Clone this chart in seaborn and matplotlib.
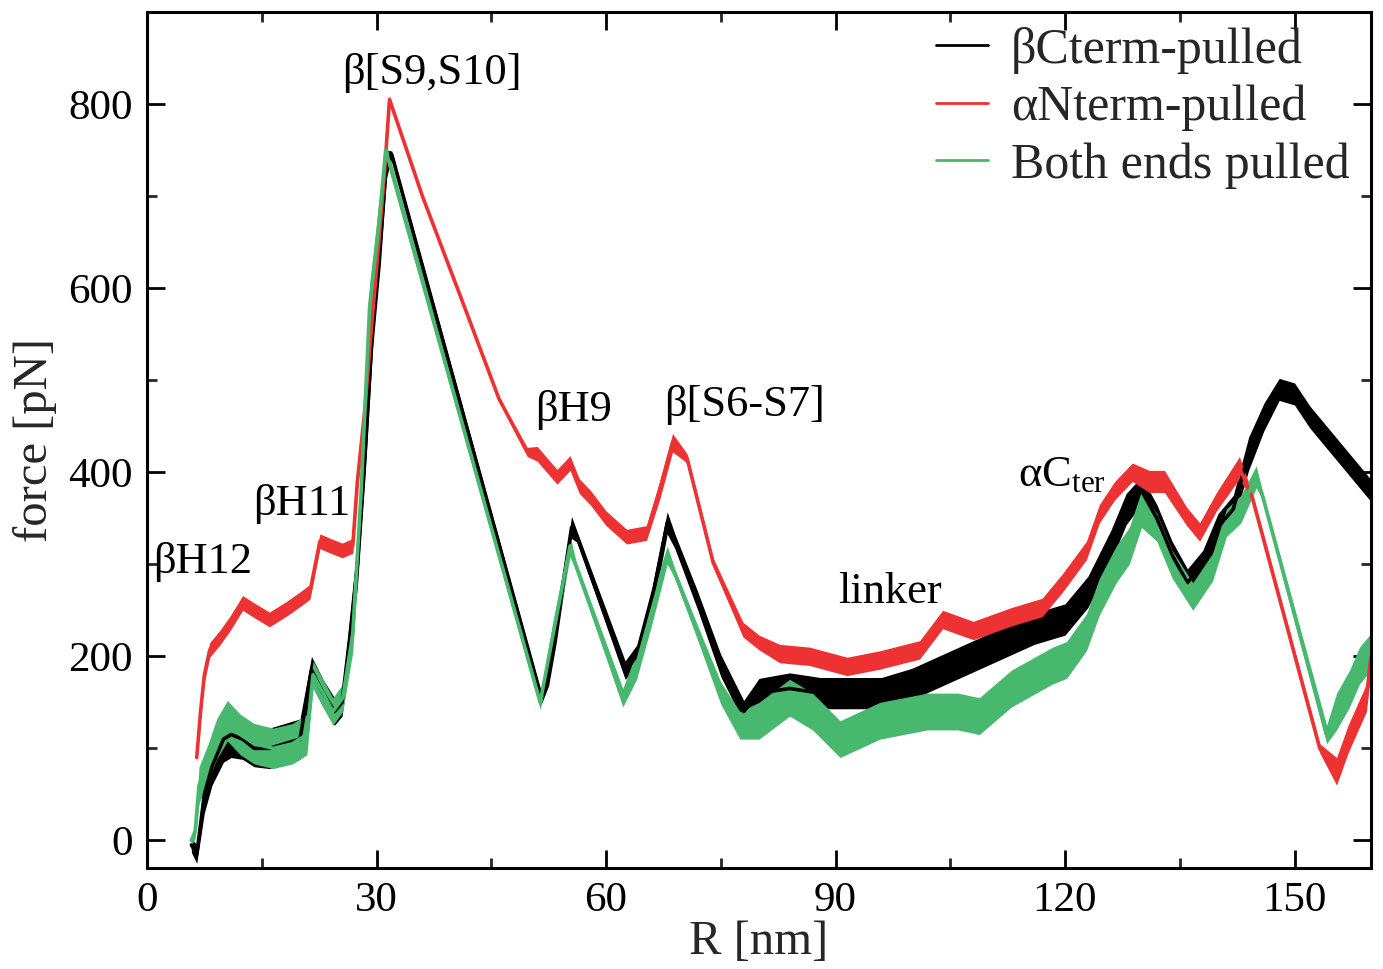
import numpy as np
import pandas as pd
import matplotlib
matplotlib.use("Agg")
import matplotlib.pyplot as plt
import seaborn as sns

# ---- data (R in nm, force in pN, noise half-width in pN)
black_x = [5.8, 6.5, 7.5, 8.5, 10, 11, 12.5, 14, 16, 18, 20, 21.5, 23, 24.5, 25.5, 26.5, 27.5, 28.5,
           29.5, 30.5, 31.3, 32, 51.5, 52.5, 53.5, 55.5, 56.2, 62.5, 64, 66, 68, 69, 72, 75, 78, 80,
           84, 88, 92, 96, 100, 104, 108, 112, 116, 120, 123, 126, 128, 130, 132, 134, 136, 138, 140,
           142, 144, 146, 148, 150, 152, 154, 156, 158, 160]
black_y = [-5, -15, 50, 80, 110, 115, 110, 100, 100, 105, 110, 185, 160, 140, 150, 220, 300, 420,
           560, 650, 735, 745, 155, 180, 230, 340, 330, 185, 200, 260, 345, 325, 260, 190, 140, 160,
           165, 160, 160, 160, 170, 185, 200, 215, 230, 240, 270, 320, 360, 380, 350, 310, 280, 300, 340,
           360, 420, 460, 490, 485, 460, 440, 420, 400, 380]
black_w = [8, 10, 20, 20, 25, 25, 22, 20, 22, 22, 22, 15, 15, 15, 15, 20, 25, 25,
           25, 25, 15, 4, 8, 12, 15, 12, 6, 10, 12, 15, 12, 8, 10, 12, 12, 16,
           17, 17, 17, 17, 17, 17, 17, 17, 17, 17, 17, 17, 17, 15, 15, 15, 15, 15, 15,
           15, 18, 15, 12, 12, 12, 12, 12, 12, 12]

red_x = [6.5, 7, 7.5, 8.2, 9.5, 10.8, 12.5, 14, 16, 18.3, 20, 21.3, 22.6, 24, 25.5, 26.9, 27.5, 28.5,
         29.1, 30.2, 31, 31.7, 36, 41.8, 46, 49.7, 51, 53.6, 55.3, 56.5, 58, 60, 62.7, 65.3, 67, 68.7,
         70.6, 74, 77.9, 80, 82.7, 86.6, 91.5, 95.8, 101, 104, 108, 113, 117, 119.7, 122.8, 124.5,
         126.5, 128.8, 131, 133, 135.9, 137.6, 139.8, 142.8, 144.5, 153.3, 155.5, 157, 159.4, 160]
red_y = [90, 140, 180, 207, 220, 235, 258, 250, 240, 252, 262, 270, 325, 320, 315, 320, 390, 470,
         533, 640, 720, 805, 700, 573, 480, 422, 420, 395, 410, 385, 372, 350, 330, 334, 380, 432,
         415, 302, 229, 215, 203, 200, 189, 196, 207, 240, 228, 243, 253, 280, 315, 355,
         380, 400, 390, 390, 352, 335, 368, 405, 372, 100, 75, 110, 155, 200]
red_w = [5, 8, 8, 8, 8, 8, 8, 8, 8, 8, 8, 8, 8, 8, 8, 8, 10, 10,
         10, 10, 10, 4, 2, 2, 2, 5, 8, 8, 8, 8, 8, 8, 8, 8, 10, 10,
         5, 5, 8, 8, 10, 10, 10, 10, 10, 10, 10, 10, 10, 10, 10, 10,
         10, 10, 12, 12, 10, 10, 10, 12, 5, 5, 15, 15, 15, 15]

green_x = [5.8, 6.3, 6.8, 8, 9.1, 10.5, 12.2, 14, 16.5, 19, 20.9, 21.7, 23, 24.3, 25.6, 26.9, 28,
           29.1, 30.2, 31.2, 51.4, 53, 55.3, 56, 62.2, 64, 66, 68, 69, 72, 75, 77.5, 80, 84, 87,
           90.6, 95.8, 102, 106, 108.8, 113, 115.8, 118.4, 120.2, 122.8, 124.5, 126.7, 128.4, 130,
           132, 134, 136.7, 139.3, 141.1, 143, 145, 145.8, 154.2, 155.5, 157.2, 158.5, 160]
green_y = [0, 10, 60, 85, 110, 130, 115, 105, 100, 105, 115, 180, 160, 140, 155, 225, 380,
           580, 660, 750, 150, 220, 320, 300, 155, 190, 250, 310, 290, 225, 160, 125, 130, 155, 140,
           110, 130, 140, 140, 135, 165, 178, 190, 196, 226, 265, 300, 320, 360,
           340, 300, 265, 297, 345, 360, 395, 375, 115, 140, 165, 190, 205]
green_w = [5, 8, 20, 20, 22, 22, 22, 22, 22, 22, 22, 15, 15, 15, 15, 20, 25,
           25, 25, 8, 8, 15, 12, 5, 10, 15, 15, 10, 5, 8, 12, 15, 20, 20, 20,
           20, 20, 20, 20, 20, 20, 20, 20, 20, 20, 20, 20, 20, 20,
           15, 15, 15, 15, 15, 15, 12, 5, 10, 20, 20, 20, 20]

series_names = ["\u03b2Cterm-pulled", "\u03b1Nterm-pulled", "Both ends pulled"]
series_colors = ["#000000", "#ec3232", "#47b86d"]

annotations = [("\u03b2H12", 0.8, 302), ("\u03b2H11", 13.9, 365), ("\u03b2[S9,S10]", 25.5, 834),
               ("\u03b2H9", 50.7, 468), ("\u03b2[S6-S7]", 67.6, 473), ("linker", 90.3, 270),
               ("\u03b1C$_{\\rm ter}$", 113.8, 397)]

x_ticks = [0, 30, 60, 90, 120, 150]
y_ticks = [0, 200, 400, 600, 800]

# ---- style
sns.set_theme(style="ticks")
plt.rcParams["font.family"] = ["Liberation Serif", "DejaVu Serif"]
plt.rcParams["mathtext.fontset"] = "custom"
plt.rcParams["mathtext.rm"] = "Liberation Serif"
plt.rcParams["mathtext.it"] = "Liberation Serif:italic"

fig = plt.figure(figsize=(13.83, 9.69), dpi=100)
ax = fig.add_axes([147 / 1383, 101 / 969, 1224 / 1383, 856 / 969])

frames = []
for name, xs, ys, ws in [(series_names[0], black_x, black_y, black_w),
                         (series_names[1], red_x, red_y, red_w),
                         (series_names[2], green_x, green_y, green_w)]:
    frames.append(pd.DataFrame({"R": xs, "force": ys, "w": ws, "series": name}))
df = pd.concat(frames, ignore_index=True)

for name, col in zip(series_names, series_colors):
    d = df[df["series"] == name]
    ax.fill_between(d["R"], d["force"] - d["w"], d["force"] + d["w"], color=col, lw=0)
    sns.lineplot(data=d, x="R", y="force", color=col, lw=2.6, sort=False,
                 estimator=None, ax=ax, label=name)

for txt, x, y in annotations:
    ax.text(x, y, txt, fontsize=32, ha="left", va="center", color="black")

ax.set_xlim(0, 160)
ax.set_ylim(-30, 900)
ax.set_xticks(x_ticks)
ax.set_yticks(y_ticks)
ax.set_xticks(np.arange(15, 160, 30), minor=True)
ax.set_yticks(np.arange(100, 900, 200), minor=True)
ax.tick_params(which="major", direction="in", length=13, width=2, top=True, right=True,
               labelsize=31, pad=10, colors="black")
ax.tick_params(which="minor", direction="in", length=7, width=2, top=True, right=True)
for s in ax.spines.values():
    s.set_linewidth(2.2)
    s.set_color("black")

ax.set_xlabel("R [nm]", fontsize=35, labelpad=0)
ax.set_ylabel("force [pN]", fontsize=35, labelpad=8)

leg = ax.legend(loc="upper right", bbox_to_anchor=(1.003, 1.012), frameon=False, fontsize=36,
                handlelength=1.05, handletextpad=0.45, labelspacing=0.22, borderaxespad=0.1)
for h in leg.get_lines():
    h.set_linewidth(2)

fig.savefig("out.png", dpi=100, facecolor="white")
